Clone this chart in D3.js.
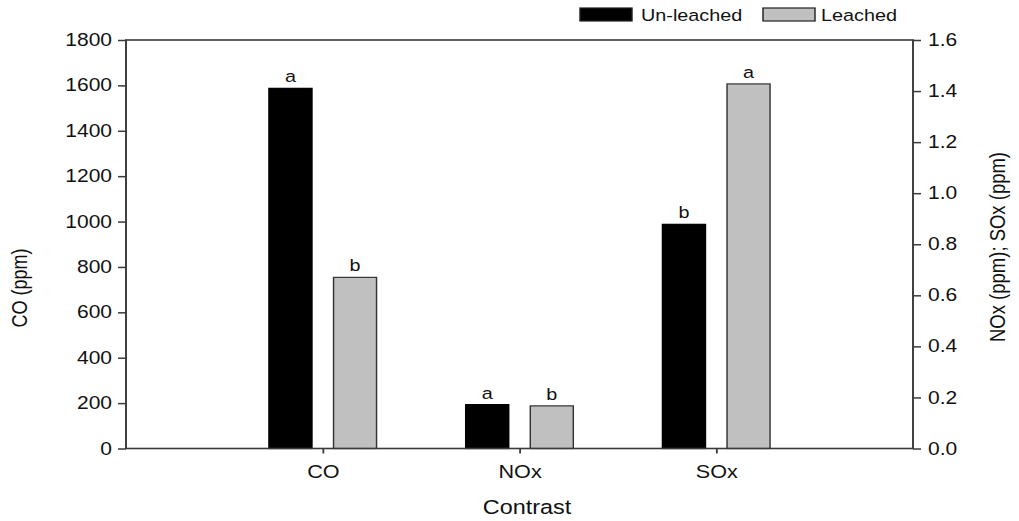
<!DOCTYPE html>
<html>
<head>
<meta charset="utf-8">
<script src="https://cdn.jsdelivr.net/npm/d3@7"></script>
<style>
  html, body { margin: 0; padding: 0; background: #fff; }
  svg { display: block; }
  text { font-family: "Liberation Sans", Arial, sans-serif; fill: #111; }
</style>
</head>
<body>
<svg id="chart" width="1019" height="521"></svg>
<script>
// ---- data ----
const categories = ["CO", "NOx", "SOx"];
const seriesNames = ["Un-leached", "Leached"];
const unleachedValues = [1587, 0.172, 0.878];
const leachedValues = [754, 0.167, 1.428];
const unleachedLetters = ["a", "a", "b"];
const leachedLetters = ["b", "b", "a"];
const categoryAxis = ["left", "right", "right"];
const leftTicks = [0, 200, 400, 600, 800, 1000, 1200, 1400, 1600, 1800];
const rightTicks = [0, 0.2, 0.4, 0.6, 0.8, 1.0, 1.2, 1.4, 1.6];
const leftTitle = "CO (ppm)";
const rightTitle = "NOx (ppm); SOx (ppm)";
const xTitle = "Contrast";

// ---- layout (the reference is stretched horizontally) ----
const SX = 1.2;
const W = 1019 / SX, H = 521;
const svg = d3.select("#chart")
  .attr("viewBox", `0 0 ${W} ${H}`)
  .attr("preserveAspectRatio", "none");

const x0 = 126 / SX, x1 = 913 / SX, yTop = 40, yBot = 448.5;
const lineColor = "#3a3a3a";

const yL = d3.scaleLinear().domain([0, 1800]).range([yBot, yTop]);
const yR = d3.scaleLinear().domain([0, 1.6]).range([yBot, yTop]);
const xCat = d3.scalePoint().domain(categories).range([x0, x1]).padding(1);
const xSub = d3.scaleBand().domain(seriesNames).range([-53.8 / SX, 53.8 / SX]).paddingInner(0.334).paddingOuter(0);

const rows = categories.map((c, i) => ({
  cat: c, scale: categoryAxis[i] === "left" ? yL : yR,
  bars: [
    { s: seriesNames[0], v: unleachedValues[i], l: unleachedLetters[i] },
    { s: seriesNames[1], v: leachedValues[i], l: leachedLetters[i] }
  ]
}));
const fills = { "Un-leached": "#000000", "Leached": "#c0c0c0" };

// bars
const g = svg.append("g");
rows.forEach(r => {
  const gg = g.append("g").attr("transform", `translate(${xCat(r.cat)},0)`);
  gg.selectAll("rect").data(r.bars).join("rect")
    .attr("x", d => xSub(d.s))
    .attr("width", xSub.bandwidth())
    .attr("y", d => r.scale(d.v))
    .attr("height", d => yBot - r.scale(d.v))
    .attr("fill", d => fills[d.s])
    .attr("stroke", d => d.s === "Leached" ? "#333" : "#000")
    .attr("stroke-width", 1.2);
  gg.selectAll("text").data(r.bars).join("text")
    .attr("x", d => xSub(d.s) + xSub.bandwidth() / 2)
    .attr("y", d => r.scale(d.v) - 6)
    .attr("text-anchor", "middle")
    .style("font-size", "16.5px")
    .text(d => d.l);
});

// frame
svg.append("rect").attr("x", x0).attr("y", yTop).attr("width", x1 - x0).attr("height", yBot - yTop)
  .attr("fill", "none").attr("stroke", lineColor).attr("stroke-width", 1.6);

// axes
const aL = svg.append("g").attr("transform", `translate(${x0},0)`)
  .call(d3.axisLeft(yL).tickValues(leftTicks).tickFormat(d3.format("d")).tickSize(8 / SX).tickPadding(6 / SX).tickSizeOuter(0));
const aR = svg.append("g").attr("transform", `translate(${x1},0)`)
  .call(d3.axisRight(yR).tickValues(rightTicks).tickFormat(d3.format(".1f")).tickSize(8 / SX).tickPadding(7 / SX).tickSizeOuter(0));
const aB = svg.append("g").attr("transform", `translate(0,${yBot})`)
  .call(d3.axisBottom(xCat).tickSize(5).tickPadding(12).tickSizeOuter(0));
[aL, aR, aB].forEach(a => {
  a.select(".domain").remove();
  a.selectAll(".tick line").attr("stroke", lineColor).attr("stroke-width", 1.5);
  a.selectAll(".tick text").style("font-size", "17.5px").attr("fill", "#111")
    .style("font-family", '"Liberation Sans", Arial, sans-serif');
});
aB.selectAll(".tick text").style("font-size", "18px");

// titles
svg.append("text").attr("x", 527 / SX).attr("y", 514).attr("text-anchor", "middle")
  .style("font-size", "19.5px").text(xTitle);
svg.append("text").attr("transform", `translate(${27 / SX},${288}) rotate(-90)`)
  .attr("text-anchor", "middle").style("font-size", "18px").text(leftTitle);
svg.append("text").attr("transform", `translate(${1005 / SX},${247}) rotate(-90)`)
  .attr("text-anchor", "middle").style("font-size", "18.5px").text(rightTitle);

// legend
const legend = [
  { name: seriesNames[0], rx: 580, tx: 641 },
  { name: seriesNames[1], rx: 763, tx: 821 }
];
legend.forEach(d => {
  svg.append("rect").attr("x", d.rx / SX).attr("y", 8).attr("width", 52 / SX).attr("height", 13)
    .attr("fill", fills[d.name]).attr("stroke", "#222").attr("stroke-width", 1.2);
  svg.append("text").attr("x", d.tx / SX).attr("y", 21.5).style("font-size", "16.5px").text(d.name);
});
</script>
</body>
</html>
